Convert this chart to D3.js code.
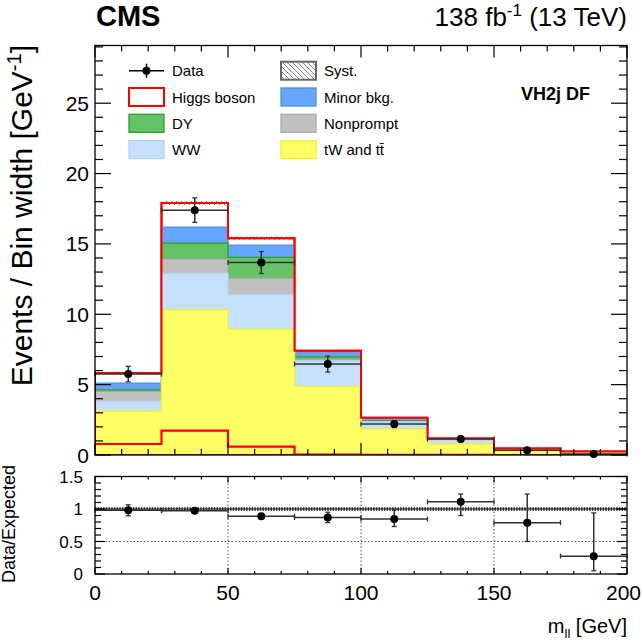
<!DOCTYPE html>
<html><head><meta charset="utf-8">
<script src="https://cdn.jsdelivr.net/npm/d3@7"></script>
<style>body{margin:0;background:#fff}svg{display:block;font-family:"Liberation Sans",Arial,sans-serif}</style>
</head><body><svg id="c" width="642" height="641"></svg>
<script>
// ---------- data ----------
const binEdges = [0, 25, 50, 75, 100, 125, 150, 175, 200];
const tWtt    = [3.12, 10.32, 8.95, 4.88, 1.85, 0.78, 0.30, 0.17];
const WW      = [0.69, 2.58, 2.44, 1.80, 0.50, 0.28, 0.10, 0.06];
const nonprompt = [0.71, 1.02, 1.16, 0.09, 0.04, 0.02, 0.01, 0.00];
const DY      = [0.10, 1.14, 1.49, 0.21, 0.05, 0.02, 0.01, 0.005];
const minorBkg = [0.49, 1.13, 0.87, 0.36, 0.17, 0.06, 0.04, 0.015];
const higgs   = [0.71, 1.71, 0.50, 0.07, 0.04, 0.02, 0.01, 0.00];
const higgsAlone = [0.78, 1.73, 0.59, 0.02, 0.01, 0.005, 0.0, 0.0];
const systUnc = [0.08, 0.15, 0.12, 0.06, 0.03, 0.02, 0.01, 0.01];
const dataVal = [5.75, 17.4, 13.68, 6.46, 2.20, 1.14, 0.33, 0.07];
const dataErr = [0.55, 0.87, 0.78, 0.57, 0.25, 0.20, 0.11, 0.05];
const ratioVal = [0.98, 0.975, 0.89, 0.87, 0.845, 1.11, 0.79, 0.275];
const ratioLo  = [0.895, 0.945, 0.85, 0.79, 0.73, 0.90, 0.50, 0.05];
const ratioHi  = [1.065, 1.005, 0.93, 0.95, 0.99, 1.23, 1.23, 0.94];
const xTickLabels = [0, 50, 100, 150, 200];
const yTickLabels = [0, 5, 10, 15, 20, 25];
const rTickLabels = [0, 0.5, 1, 1.5];
const rTickText = ["0", "0.5", "1", "1.5"];

const components = [
  {name: "tW and tt\u0304", vals: tWtt, fill: "#ffff66", stroke: "#eeee3a"},
  {name: "WW", vals: WW, fill: "#c6e0fc", stroke: "#b4d4f6"},
  {name: "Nonprompt", vals: nonprompt, fill: "#c0c0c0", stroke: "#a9a9a9"},
  {name: "DY", vals: DY, fill: "#66c266", stroke: "#2ca02c"},
  {name: "Minor bkg.", vals: minorBkg, fill: "#66a6ff", stroke: "#4a8fe8"},
  {name: "Higgs boson", vals: higgs, fill: "#ffffff", stroke: "#ff0000"}
];

// ---------- layout ----------
const svg = d3.select("#c");
const X0 = 95, X1 = 627;
const M = {top: 45.5, bottom: 455};
const R = {top: 476.5, bottom: 574};
const x = d3.scaleLinear().domain([0, 200]).range([X0, X1]);
const y = d3.scaleLinear().domain([0, 29.1]).range([M.bottom, M.top]);
const yr = d3.scaleLinear().domain([0, 1.5]).range([R.bottom, R.top]);

const defs = svg.append("defs");
const hp = defs.append("pattern").attr("id", "hatch").attr("patternUnits", "userSpaceOnUse")
  .attr("width", 5).attr("height", 5);
hp.append("path").attr("d", "M-1,-1 L6,6 M-1,4 L1,6 M4,-1 L6,1").attr("stroke", "#777").attr("stroke-width", 0.9);

const nb = binEdges.length - 1;
function stepArea(top, yScale) {
  let d = `M${x(binEdges[0])},${yScale(0)}`;
  for (let i = 0; i < nb; i++) {
    d += `L${x(binEdges[i])},${yScale(top[i])}L${x(binEdges[i + 1])},${yScale(top[i])}`;
  }
  d += `L${x(binEdges[nb])},${yScale(0)}Z`;
  return d;
}
function stepLine(top, yScale) {
  let d = "";
  for (let i = 0; i < nb; i++) {
    d += (i === 0 ? "M" : "L") + `${x(binEdges[i])},${yScale(top[i])}L${x(binEdges[i + 1])},${yScale(top[i])}`;
  }
  return d;
}

// cumulative stacks
const cum = [];
let run = new Array(nb).fill(0);
components.forEach(c => {
  run = run.map((v, i) => v + c.vals[i]);
  cum.push(run.slice());
});
const total = cum[cum.length - 1];

const plot = svg.append("g");
plot.append("clipPath").attr("id", "clipM").append("rect")
  .attr("x", X0).attr("y", M.top).attr("width", X1 - X0).attr("height", M.bottom - M.top);
const pm = plot.append("g").attr("clip-path", "url(#clipM)");

for (let k = components.length - 1; k >= 0; k--) {
  const c = components[k];
  pm.append("path").attr("d", stepArea(cum[k], y)).attr("fill", c.fill)
    .attr("stroke", c.stroke).attr("stroke-width", k === components.length - 1 ? 2 : 1.3);
}
// syst band
for (let i = 0; i < nb; i++) {
  pm.append("rect").attr("x", x(binEdges[i])).attr("width", x(binEdges[i + 1]) - x(binEdges[i]))
    .attr("y", y(total[i] + systUnc[i])).attr("height", y(total[i] - systUnc[i]) - y(total[i] + systUnc[i]))
    .attr("fill", "url(#hatch)");
}
// total outline
pm.append("path").attr("d", stepArea(total, y)).attr("fill", "none").attr("stroke", "#ff0000").attr("stroke-width", 2);
// Higgs alone
pm.append("path").attr("d", stepLine(higgsAlone, y) + `L${x(200)},${y(0)}`).attr("fill", "none")
  .attr("stroke", "#ff0000").attr("stroke-width", 2.2);

// data points
function drawPoints(g, vals, lo, hi, yScale) {
  for (let i = 0; i < nb; i++) {
    const xc = x((binEdges[i] + binEdges[i + 1]) / 2);
    const yc = yScale(vals[i]);
    const xa = x(binEdges[i]), xb = x(binEdges[i + 1]);
    const col = "#333";
    g.append("line").attr("x1", xa).attr("x2", xb).attr("y1", yc).attr("y2", yc).attr("stroke", col).attr("stroke-width", 1.5);
    g.append("line").attr("x1", xa).attr("x2", xa).attr("y1", yc - 2.5).attr("y2", yc + 2.5).attr("stroke", col).attr("stroke-width", 1.3);
    g.append("line").attr("x1", xb).attr("x2", xb).attr("y1", yc - 2.5).attr("y2", yc + 2.5).attr("stroke", col).attr("stroke-width", 1.3);
    const y1 = yScale(hi[i]), y2 = yScale(lo[i]);
    g.append("line").attr("x1", xc).attr("x2", xc).attr("y1", y1).attr("y2", y2).attr("stroke", col).attr("stroke-width", 1.5);
    g.append("line").attr("x1", xc - 2.5).attr("x2", xc + 2.5).attr("y1", y1).attr("y2", y1).attr("stroke", col).attr("stroke-width", 1.3);
    g.append("line").attr("x1", xc - 2.5).attr("x2", xc + 2.5).attr("y1", y2).attr("y2", y2).attr("stroke", col).attr("stroke-width", 1.3);
    g.append("circle").attr("cx", xc).attr("cy", yc).attr("r", 4).attr("fill", "#000");
  }
}
drawPoints(plot, dataVal, dataVal.map((v, i) => v - dataErr[i]), dataVal.map((v, i) => v + dataErr[i]), y);

// ---------- frames & ticks ----------
function frame(top, bottom) {
  svg.append("rect").attr("x", X0).attr("y", top).attr("width", X1 - X0).attr("height", bottom - top)
    .attr("fill", "none").attr("stroke", "#000").attr("stroke-width", 1.3);
}
function xTicks(top, bottom, majL, minL) {
  d3.range(0, 201, 10).forEach(v => {
    const L = v % 50 === 0 ? majL : minL;
    svg.append("line").attr("x1", x(v)).attr("x2", x(v)).attr("y1", bottom).attr("y2", bottom - L).attr("stroke", "#000").attr("stroke-width", 1.2);
    svg.append("line").attr("x1", x(v)).attr("x2", x(v)).attr("y1", top).attr("y2", top + L).attr("stroke", "#000").attr("stroke-width", 1.2);
  });
}
function yTicks(scale, step, majEvery, maxV, majL, minL) {
  const n = Math.floor(maxV / step + 1e-6);
  for (let k = 0; k <= n; k++) {
    const v = k * step;
    const L = k % majEvery === 0 ? majL : minL;
    svg.append("line").attr("x1", X0).attr("x2", X0 + L).attr("y1", scale(v)).attr("y2", scale(v)).attr("stroke", "#000").attr("stroke-width", 1.2);
    svg.append("line").attr("x1", X1).attr("x2", X1 - L).attr("y1", scale(v)).attr("y2", scale(v)).attr("stroke", "#000").attr("stroke-width", 1.2);
  }
}
frame(M.top, M.bottom);
xTicks(M.top, M.bottom, 12, 6);
yTicks(y, 1, 5, 29.1, 16, 8);

// ratio panel
const rg = svg.append("g");
[50, 100, 150].forEach(v => rg.append("line").attr("x1", x(v)).attr("x2", x(v)).attr("y1", R.top).attr("y2", R.bottom)
  .attr("stroke", "#555").attr("stroke-width", 1).attr("stroke-dasharray", "1.5,2"));
rg.append("line").attr("x1", X0).attr("x2", X1).attr("y1", yr(0.5)).attr("y2", yr(0.5))
  .attr("stroke", "#555").attr("stroke-width", 1).attr("stroke-dasharray", "1.5,2");
rg.append("line").attr("x1", X0).attr("x2", X1).attr("y1", yr(1)).attr("y2", yr(1))
  .attr("stroke", "#222").attr("stroke-width", 3.5).attr("stroke-dasharray", "1.5,1.2");
rg.append("line").attr("x1", X0).attr("x2", X1).attr("y1", yr(1)).attr("y2", yr(1))
  .attr("stroke", "#222").attr("stroke-width", 1);
drawPoints(rg, ratioVal, ratioLo, ratioHi, yr);
frame(R.top, R.bottom);
xTicks(R.top, R.bottom, 6, 3);
yTicks(yr, 0.1, 5, 1.5, 10, 6);

// ---------- texts ----------
yTickLabels.forEach(v => svg.append("text").attr("x", 89).attr("y", y(v) + 7.5).attr("text-anchor", "end")
  .attr("font-size", 21).text(v));
rTickLabels.forEach((v, i) => svg.append("text").attr("x", 83).attr("y", yr(v) + 6).attr("text-anchor", "end")
  .attr("font-size", 17).text(rTickText[i]));
xTickLabels.forEach((v, i) => {
  const last = i === xTickLabels.length - 1;
  svg.append("text").attr("x", last ? 641 : x(v)).attr("y", 600).attr("text-anchor", last ? "end" : "middle")
    .attr("font-size", 21).text(v);
});

const xt = svg.append("text").attr("x", 627).attr("y", 633).attr("text-anchor", "end").attr("font-size", 20);
xt.append("tspan").text("m");
xt.append("tspan").attr("font-size", 13).attr("dy", 5).text("ll");
xt.append("tspan").attr("dy", -5).text(" [GeV]");

const yt = svg.append("text").attr("transform", "translate(32,45) rotate(-90)").attr("text-anchor", "end").attr("font-size", 30);
yt.append("tspan").text("Events / Bin width [GeV");
yt.append("tspan").attr("font-size", 20).attr("dy", -11).text("-1");
yt.append("tspan").attr("dy", 11).text("]");

svg.append("text").attr("transform", "translate(15,524) rotate(-90)").attr("text-anchor", "middle")
  .attr("font-size", 18).text("Data/Expected");

svg.append("text").attr("x", 96).attr("y", 26).attr("font-weight", "bold").attr("font-size", 29).text("CMS");
const lt = svg.append("text").attr("x", 627).attr("y", 26).attr("text-anchor", "end").attr("font-size", 26);
lt.append("tspan").text("138 fb");
lt.append("tspan").attr("font-size", 17).attr("dy", -10).text("-1");
lt.append("tspan").attr("dy", 10).text(" (13 TeV)");

svg.append("text").attr("x", 590).attr("y", 99.5).attr("text-anchor", "end").attr("font-weight", "bold")
  .attr("font-size", 18).text("VH2j DF");

// ---------- legend ----------
const rowsY = [70.7, 97, 123.3, 149.6];
const leg = svg.append("g");
function legText(xp, yp, t) { return leg.append("text").attr("x", xp).attr("y", yp + 5.5).attr("font-size", 15).text(t); }
leg.append("line").attr("x1", 129).attr("x2", 164).attr("y1", rowsY[0]).attr("y2", rowsY[0]).attr("stroke", "#000").attr("stroke-width", 1.5);
leg.append("line").attr("x1", 146.5).attr("x2", 146.5).attr("y1", rowsY[0] - 7).attr("y2", rowsY[0] + 7).attr("stroke", "#000").attr("stroke-width", 1.5);
leg.append("circle").attr("cx", 146.5).attr("cy", rowsY[0]).attr("r", 4).attr("fill", "#000");
legText(172, rowsY[0], "Data");
function legBox(xp, yp, fill, stroke, sw) {
  leg.append("rect").attr("x", xp).attr("y", yp - 9).attr("width", 35).attr("height", 18)
    .attr("fill", fill).attr("stroke", stroke).attr("stroke-width", sw);
}
const hg = components[5], dy = components[3], ww = components[1], mb = components[4], np = components[2], tw = components[0];
legBox(129, rowsY[1], "#fff", hg.stroke, 2); legText(172, rowsY[1], "Higgs boson");
legBox(129, rowsY[2], dy.fill, dy.stroke, 1.3); legText(172, rowsY[2], "DY");
legBox(129, rowsY[3], ww.fill, ww.stroke, 1.3); legText(172, rowsY[3], "WW");
legBox(281, rowsY[0], "url(#hatch)", "#666", 2); legText(324, rowsY[0], "Syst.");
legBox(281, rowsY[1], mb.fill, mb.stroke, 1.3); legText(324, rowsY[1], "Minor bkg.");
legBox(281, rowsY[2], np.fill, np.stroke, 1.3); legText(324, rowsY[2], "Nonprompt");
legBox(281, rowsY[3], tw.fill, tw.stroke, 1.3);
leg.append("text").attr("x", 324).attr("y", rowsY[3] + 5.5).attr("font-size", 15).text("tW and t\u0074\u0304");
</script></body></html>
